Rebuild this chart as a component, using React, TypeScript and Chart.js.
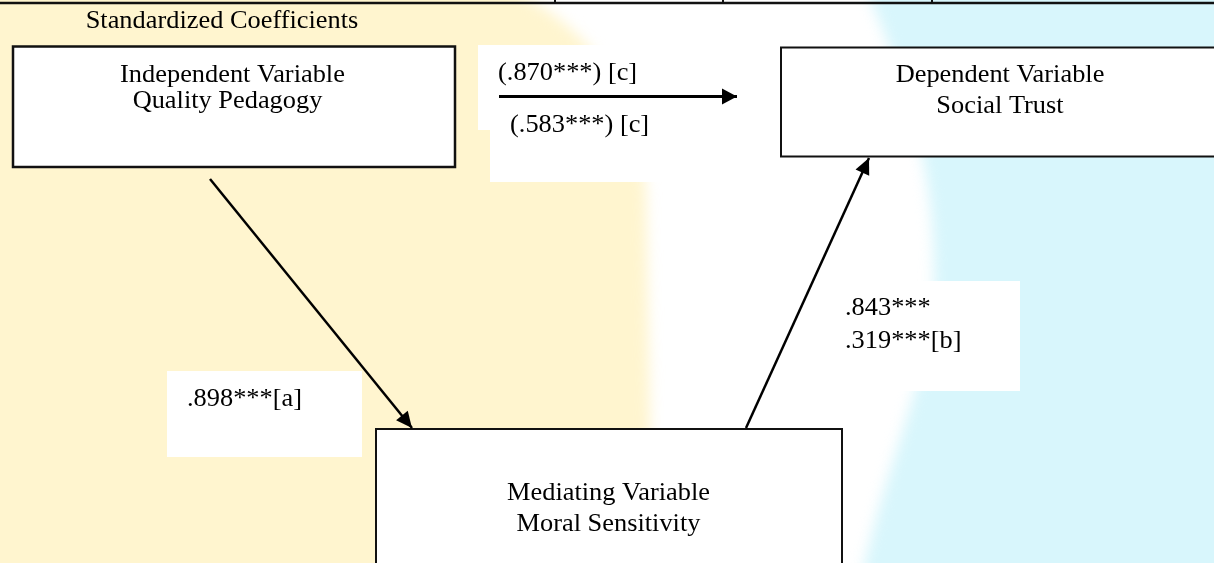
import React, { useEffect, useRef } from "react";
import { Chart, registerables } from "chart.js";

Chart.register(...registerables);

// ---------- content ----------
const TITLE = "Standardized Coefficients";
const boxTitles = ["Independent Variable", "Dependent Variable", "Mediating Variable"];
const boxNames = ["Quality Pedagogy", "Social Trust", "Moral Sensitivity"];
const directLabels = ["(.870***) [c]", "(.583***) [c]"];
const pathALabels = [".898***[a]"];
const pathBLabels = [".843***", ".319***[b]"];

// ---------- layout (diagram units = pixels of the reference) ----------
const W = 1214;
const H = 563;
const boxX0 = [13, 781, 376];
const boxX1 = [455, 1262, 842];
const boxY0 = [46.5, 47.5, 429];
const boxY1 = [167, 156.5, 640];
const boxLine1Y = [82, 82, 500];
const boxLine2Y = [108, 113, 531];
const boxLine1X = [232.5, 1000, 608.5];
const boxLine2X = [227.5, 1000, 608.5];

// arrows
const arrowDirectX = [499, 737];
const arrowDirectY = [96.5, 96.5];
const arrowAX = [210, 412];
const arrowAY = [179, 428];
const arrowBX = [746, 869];
const arrowBY = [428, 158];

const tableRuleY = 3;
const tableColumnX = [555, 723, 932];

const FONT = '25px "Liberation Serif", "Times New Roman", serif';
const SX = 1.055;

function App() {
  const ref = useRef<HTMLCanvasElement | null>(null);

  useEffect(() => {
    const canvas = ref.current;
    if (!canvas) return;

    const px = (c: any, v: number) => c.scales.x.getPixelForValue(v);
    const py = (c: any, v: number) => c.scales.y.getPixelForValue(v);

    const text = (c: any, s: string, x: number, y: number, align: CanvasTextAlign) => {
      const ctx = c.ctx as CanvasRenderingContext2D;
      ctx.save();
      ctx.translate(px(c, x), py(c, y));
      ctx.scale(SX, 1);
      ctx.font = FONT;
      ctx.fillStyle = "#000";
      ctx.textAlign = align;
      ctx.textBaseline = "alphabetic";
      ctx.fillText(s, 0, 0);
      ctx.restore();
    };

    const diagram = {
      id: "diagram",
      beforeDraw(c: any) {
        const ctx = c.ctx as CanvasRenderingContext2D;
        ctx.save();
        ctx.fillStyle = "#ffffff";
        ctx.fillRect(0, 0, c.width, c.height);
        ctx.filter = "blur(7px)";
        ctx.fillStyle = "#fff5cf";
        ctx.beginPath();
        ctx.moveTo(px(c, -30), py(c, -30));
        ctx.lineTo(px(c, 460), py(c, -30));
        ctx.quadraticCurveTo(px(c, 630), py(c, 20), px(c, 646), py(c, 190));
        ctx.lineTo(px(c, 650), py(c, 420));
        ctx.lineTo(px(c, 646), py(c, 600));
        ctx.lineTo(px(c, -30), py(c, 600));
        ctx.closePath();
        ctx.fill();
        ctx.fillStyle = "#d8f6fc";
        ctx.beginPath();
        ctx.moveTo(px(c, 858), py(c, -30));
        ctx.bezierCurveTo(px(c, 905), py(c, 80), px(c, 935), py(c, 160), px(c, 934), py(c, 280));
        ctx.bezierCurveTo(px(c, 932), py(c, 380), px(c, 880), py(c, 470), px(c, 858), py(c, 600));
        ctx.lineTo(px(c, 1300), py(c, 600));
        ctx.lineTo(px(c, 1300), py(c, -30));
        ctx.closePath();
        ctx.fill();
        ctx.filter = "none";
        ctx.restore();
      },
      beforeDatasetsDraw(c: any) {
        const ctx = c.ctx as CanvasRenderingContext2D;
        ctx.save();
        ctx.fillStyle = "#ffffff";
        const rect = (x0: number, y0: number, x1: number, y1: number) => {
          ctx.fillRect(px(c, x0), py(c, y0), px(c, x1) - px(c, x0), py(c, y1) - py(c, y0));
        };
        rect(478, 45, 720, 130);
        rect(490, 130, 720, 182);
        rect(167, 371, 362, 457);
        rect(835, 281, 1020, 391);
        for (let i = 0; i < boxTitles.length; i++) {
          const x0 = px(c, boxX0[i]);
          const y0 = py(c, boxY0[i]);
          const w = px(c, boxX1[i]) - x0;
          const h = py(c, boxY1[i]) - y0;
          ctx.fillStyle = "#ffffff";
          ctx.fillRect(x0, y0, w, h);
          ctx.strokeStyle = "#111";
          ctx.lineWidth = i === 0 ? 2.5 : 2;
          ctx.strokeRect(x0, y0, w, h);
        }
        ctx.restore();
      },
      afterDatasetsDraw(c: any) {
        const ctx = c.ctx as CanvasRenderingContext2D;
        ctx.save();
        const heads = [
          { len: 15, half: 8 },
          { len: 16, half: 7.5 },
          { len: 16, half: 7.5 },
        ];
        c.data.datasets.forEach((ds: any, i: number) => {
          const d = ds.data;
          const a = d[d.length - 2];
          const b = d[d.length - 1];
          const ax = px(c, a.x), ay = py(c, a.y), bx = px(c, b.x), by = py(c, b.y);
          const ang = Math.atan2(by - ay, bx - ax);
          const { len, half } = heads[i];
          ctx.fillStyle = "#000";
          ctx.beginPath();
          ctx.moveTo(bx, by);
          ctx.lineTo(bx - len * Math.cos(ang) - half * Math.sin(ang), by - len * Math.sin(ang) + half * Math.cos(ang));
          ctx.lineTo(bx - len * Math.cos(ang) + half * Math.sin(ang), by - len * Math.sin(ang) - half * Math.cos(ang));
          ctx.closePath();
          ctx.fill();
        });
        ctx.strokeStyle = "#111";
        ctx.lineWidth = 2.5;
        ctx.beginPath();
        ctx.moveTo(px(c, 0), py(c, tableRuleY));
        ctx.lineTo(px(c, W), py(c, tableRuleY));
        ctx.stroke();
        ctx.lineWidth = 2;
        tableColumnX.forEach((x) => {
          ctx.beginPath();
          ctx.moveTo(px(c, x), py(c, 0));
          ctx.lineTo(px(c, x), py(c, tableRuleY));
          ctx.stroke();
        });
        ctx.restore();

        text(c, TITLE, 222, 27.5, "center");
        for (let i = 0; i < boxTitles.length; i++) {
          text(c, boxTitles[i], boxLine1X[i], boxLine1Y[i], "center");
          text(c, boxNames[i], boxLine2X[i], boxLine2Y[i], "center");
        }
        text(c, directLabels[0], 498, 80, "left");
        text(c, directLabels[1], 510, 132, "left");
        text(c, pathALabels[0], 187, 406, "left");
        text(c, pathBLabels[0], 845, 315, "left");
        text(c, pathBLabels[1], 845, 348, "left");
      },
    };

    const mk = (xs: number[], ys: number[], width: number) => ({
      data: xs.map((x, i) => ({ x, y: ys[i] })),
      showLine: true,
      borderColor: "#000",
      backgroundColor: "#000",
      borderWidth: width,
      borderCapStyle: "butt" as const,
      pointRadius: 0,
      pointHoverRadius: 0,
      fill: false,
    });

    const chart = new Chart(canvas, {
      type: "scatter",
      data: {
        datasets: [
          mk(arrowDirectX, arrowDirectY, 3),
          mk(arrowAX, arrowAY, 2.5),
          mk(arrowBX, arrowBY, 2.5),
        ],
      },
      options: {
        animation: false,
        responsive: false,
        maintainAspectRatio: false,
        layout: { padding: 0 },
        events: [],
        plugins: { legend: { display: false }, tooltip: { enabled: false } },
        scales: {
          x: { type: "linear", min: 0, max: W, display: false },
          y: { type: "linear", min: 0, max: H, reverse: true, display: false },
        },
      },
      plugins: [diagram],
    });
    return () => chart.destroy();
  }, []);

  return (
    <div style={{ position: "absolute", left: 0, top: 0, width: W, height: H }}>
      <canvas ref={ref} width={W} height={H} style={{ width: W, height: H, display: "block" }} />
    </div>
  );
}

export default App;
